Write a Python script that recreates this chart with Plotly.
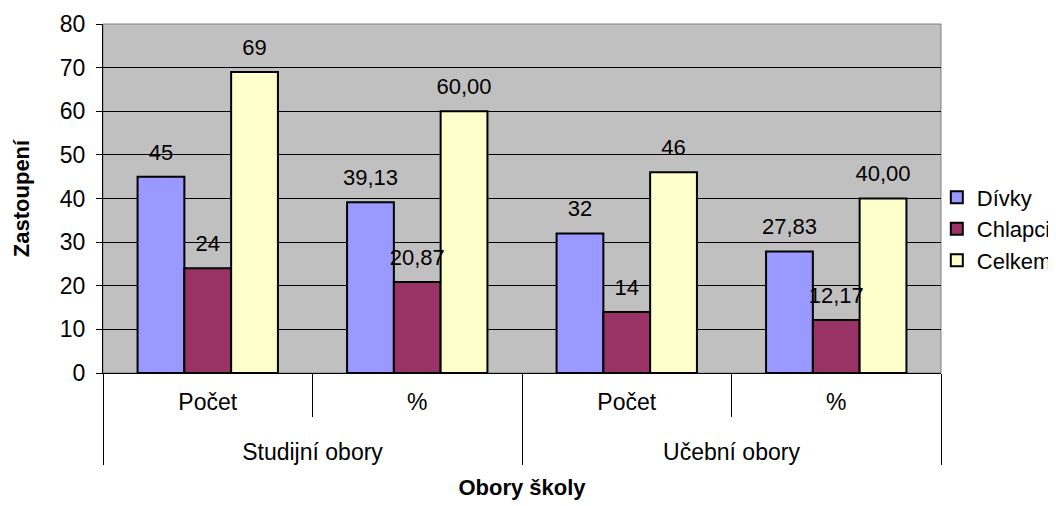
import plotly.graph_objects as go

obory = ['Studijní obory', 'Studijní obory', 'Učební obory', 'Učební obory']
typ = ['Počet', '%', 'Počet', '%']

divky = [45, 39.13, 32, 27.83]
chlapci = [24, 20.87, 14, 12.17]
celkem = [69, 60.00, 46, 40.00]

barvy = {'Dívky': '#9999FF', 'Chlapci': '#993366', 'Celkem': '#FFFFCC'}


def popisky(hodnoty):
    # počty celé, procenta na dvě desetinná místa s čárkou
    return [str(int(v)) if t == 'Počet' else f'{v:.2f}'.replace('.', ',')
            for v, t in zip(hodnoty, typ)]


fnt = dict(family='Liberation Sans, Arial, sans-serif', size=22, color='black')
fnt_osy = dict(fnt, size=23)

# horní úroveň popisků posunutá o řádek níž
osa_x = [['<br>' + o for o in obory], typ]

data = []
for _name, _vals in [('Dívky', divky), ('Chlapci', chlapci), ('Celkem', celkem)]:
    data.append(go.Bar(x=osa_x, y=_vals, name=_name, offsetgroup=_name,
                       marker=dict(color=barvy[_name], line=dict(color='black', width=2))))
    # popisky nad sloupci, neviditelný bod dává odstup od sloupce
    data.append(go.Scatter(x=osa_x, y=_vals, mode='markers+text', offsetgroup=_name,
                           text=popisky(_vals), textposition='top center',
                           textfont=fnt, marker=dict(size=17, color='rgba(0,0,0,0)'),
                           showlegend=False, hoverinfo='skip', cliponaxis=False))

fig = go.Figure(data)
# stránka má okraj 8 px, proto je graf o 8 px menší
fig.update_layout(width=1048, height=498,
                  margin=dict(l=95, r=115, t=16, b=133, autoexpand=False),
                  paper_bgcolor='white', plot_bgcolor='#C0C0C0',
                  font=fnt,
                  barmode='group', bargap=0.33, bargroupgap=0,
                  scattermode='group', scattergap=0.33,
                  legend=dict(x=0.995, y=0.413, yanchor='middle', xanchor='left',
                              bgcolor='rgba(0,0,0,0)', font=fnt, itemwidth=30,
                              tracegroupgap=0),
                  shapes=[dict(type='rect', xref='paper', yref='paper', x0=0, x1=1, y0=0, y1=1,
                               line=dict(color='#808080', width=1), layer='below')])
fig.update_xaxes(type='multicategory', showline=True, linecolor='black', linewidth=1,
                 ticks='outside', ticklen=43, tickcolor='black', showdividers=True,
                 dividercolor='black', dividerwidth=1, tickfont=fnt_osy, automargin=False,
                 ticklabelstandoff=8,
                 title=dict(text='<b>Obory školy</b>', font=fnt, standoff=16))
fig.update_yaxes(range=[0, 80], dtick=10, showline=True, linecolor='black', linewidth=1,
                 ticks='outside', ticklen=6, tickcolor='black', showgrid=True,
                 gridcolor='black', gridwidth=1, zeroline=False, tickfont=fnt_osy,
                 automargin=False, ticklabelstandoff=6,
                 title=dict(text='<b>Zastoupení</b>', font=fnt, standoff=24))

fig.write_html('out.html')
